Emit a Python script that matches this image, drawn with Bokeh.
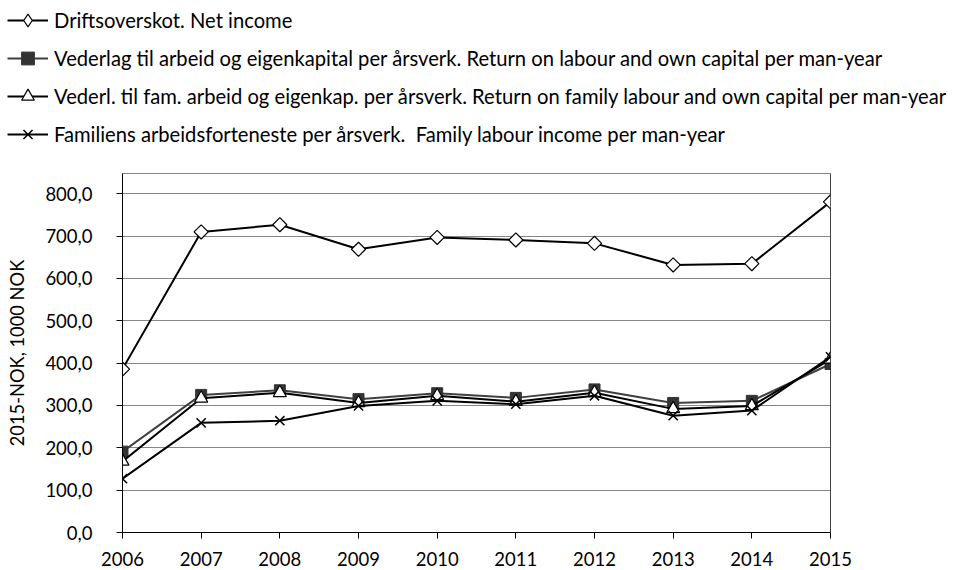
import math
from bokeh.plotting import figure
from bokeh.models import Legend, LegendItem, FixedTicker, Range1d, Span
from bokeh.embed import file_html
from bokeh.resources import INLINE

years = [2006, 2007, 2008, 2009, 2010, 2011, 2012, 2013, 2014, 2015]
net_income = [386, 710, 727, 669, 697, 691, 683, 632, 635, 781]
return_labour_capital = [191, 325, 336, 315, 329, 318, 338, 306, 311, 398]
return_family_labour_capital = [168, 317, 330, 306, 323, 309, 330, 292, 299, 409]
family_labour_income = [127, 259, 264, 299, 311, 303, 323, 276, 288, 415]

labels = [
    "Driftsoverskot. Net income",
    "Vederlag til arbeid og eigenkapital per årsverk. Return on labour and own capital per man-year",
    "Vederl. til fam. arbeid og eigenkap. per årsverk. Return on family labour and own capital per man-year",
    "Familiens arbeidsforteneste per årsverk.  Family labour income per man-year",
]
y_ticks = [0, 100, 200, 300, 400, 500, 600, 700, 800]
y_label = "2015-NOK, 1000 NOK"

FONT = "Lato"


def draw_series(fig, for_legend=False):
    l1 = fig.line(years, net_income, line_color="black", line_width=2)
    if for_legend:
        m1 = fig.scatter(years, net_income, marker="diamond", size=16,
                         fill_color="white", line_color="black", line_width=1.2)
    else:
        m1 = fig.scatter(years, net_income, marker="square", angle=math.pi / 4, size=10,
                         fill_color="white", line_color="black", line_width=1.2)
    l2 = fig.line(years, return_labour_capital, line_color="#404040", line_width=2)
    m2 = fig.scatter(years, return_labour_capital, marker="square", size=11,
                     fill_color="#333333", line_color="#333333")
    l3 = fig.line(years, return_family_labour_capital, line_color="black", line_width=2)
    m3 = fig.scatter(years, return_family_labour_capital, marker="triangle", size=13,
                     fill_color="white", line_color="black", line_width=1.2)
    l4 = fig.line(years, family_labour_income, line_color="black", line_width=2)
    m4 = fig.scatter(years, family_labour_income, marker="x", size=13,
                     line_color="black", line_width=1.5)
    return [[l1, m1], [l2, m2], [l3, m3], [l4, m4]]


# ---- legend strip (top) ----
top = figure(width=950, height=150, output_backend="svg", toolbar_location=None,
             x_range=Range1d(2006, 2015), y_range=Range1d(0, 848),
             x_axis_type=None, y_axis_type=None,
             min_border_left=0, min_border_right=0, min_border_top=0, min_border_bottom=0)
top.outline_line_color = None
top.grid.visible = False
top.background_fill_color = "white"
top.border_fill_color = "white"
legend_renderers = draw_series(top, for_legend=True)
for pair in legend_renderers:
    for r in pair:
        r.visible = False

legend = Legend(items=[LegendItem(label=lab, renderers=rs) for lab, rs in zip(labels, legend_renderers)],
                location=(7, 0))
legend.glyph_width = 41
legend.glyph_height = 32
legend.spacing = 6
legend.padding = 0
legend.margin = 0
legend.label_standoff = 6
legend.label_text_font = FONT
legend.label_text_font_size = "20.2px"
legend.label_text_color = "black"
legend.label_height = 20
legend.border_line_color = None
legend.background_fill_alpha = 0
legend.inactive_fill_alpha = 0
legend.click_policy = "none"
top.add_layout(legend, "center")

# ---- chart ----
p = figure(width=950, height=418, output_backend="svg", toolbar_location=None,
           x_range=Range1d(2006, 2015), y_range=Range1d(0, 848),
           min_border_left=122, min_border_right=120, min_border_top=23, min_border_bottom=36)
p.background_fill_color = "white"
p.border_fill_color = "white"
p.outline_line_color = "#868686"
p.outline_line_width = 1

p.xgrid.visible = False
p.ygrid.grid_line_color = "#868686"
p.ygrid.grid_line_width = 1
p.ygrid.ticker = FixedTicker(ticks=y_ticks)

p.xaxis.ticker = FixedTicker(ticks=years)
p.yaxis.ticker = FixedTicker(ticks=y_ticks)
p.yaxis.major_label_overrides = {t: f"{t:.1f}".replace(".", ",") for t in y_ticks}
for ax in (p.xaxis[0], p.yaxis[0]):
    ax.axis_line_color = "black"
    ax.major_tick_line_color = "black"
    ax.minor_tick_line_color = None
    ax.major_tick_out = 6
    ax.major_tick_in = 0
    ax.major_label_text_font = FONT
    ax.major_label_text_font_size = "18.5px"
    ax.major_label_text_color = "black"
p.xaxis.major_label_standoff = 13
p.yaxis.major_label_standoff = 24
p.yaxis.axis_label = y_label
p.yaxis.axis_label_text_font = FONT
p.yaxis.axis_label_text_font_size = "18.3px"
p.yaxis.axis_label_text_font_style = "normal"
p.yaxis.axis_label_text_color = "black"
p.yaxis.axis_label_standoff = 14

p.add_layout(Span(location=2015, dimension="height", line_color="black", line_width=1))
draw_series(p)

open("out.html", "w").write(file_html([top, p], INLINE))
